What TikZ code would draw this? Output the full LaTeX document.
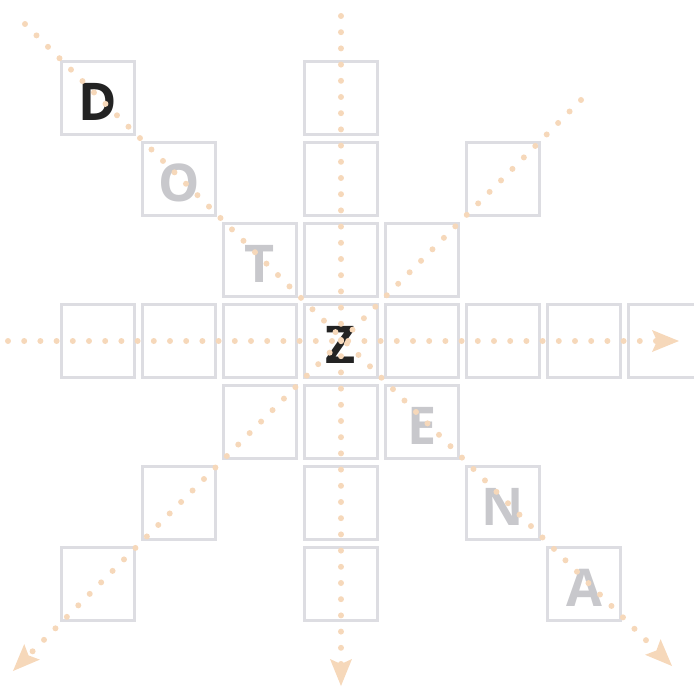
\documentclass[tikz,border=0pt]{standalone}
\usepackage{fontspec}
\setmainfont{Open Sans}
\usepackage{tikz}
\usetikzlibrary{positioning,arrows.meta}
\definecolor{cellgray}{HTML}{DDDDE2}
\definecolor{inkdark}{HTML}{232323}
\definecolor{inkgray}{HTML}{C8C8CC}
\definecolor{peach}{HTML}{F6D8BA}
\tikzset{
    every node/.style={font=\fontsize{52}{60}\selectfont\bfseries},
    cell/.style={rectangle,draw=cellgray,line width=2.5pt,minimum size=73pt,inner sep=0pt,outer sep=0pt,text height=45pt},
    hit/.style={cell,text=inkdark},
    miss/.style={cell,text=inkgray},
    ray/.style={draw=peach,line width=6pt,line cap=round,dash pattern=on 0pt off 16.2pt},
    rayhead/.style={-{Stealth[length=27pt,width=22pt,inset=5pt,line width=0pt,fill=peach]}}
}

\begin{document}
\begin{tikzpicture}[
x=1pt,y=1pt,
node distance=81pt and 81pt,
on grid
]
\useasboundingbox (-341,-345) rectangle (353,341);
% the word along the main diagonal
\node[hit] (z) at (0,0) {Z};
\node[miss, above left=of z] (t) {T};
\node[miss, above left=of t] (o) {O};
\node[hit, above left=of o] (d) {D};
\node[miss, below right=of z] (e) {E};
\node[miss, below right=of e] (n) {N};
\node[miss, below right=of n] (a) {A};
% empty cells
\node[cell, above=of z] (up1) {};
\node[cell, above=of up1] (up2) {};
\node[cell, above=of up2] (up3) {};
\node[cell, below=of z] (dn1) {};
\node[cell, below=of dn1] (dn2) {};
\node[cell, below=of dn2] (dn3) {};
\node[cell, left=of z] (lt1) {};
\node[cell, left=of lt1] (lt2) {};
\node[cell, left=of lt2] (lt3) {};
\node[cell, right=of z] (rt1) {};
\node[cell, right=of rt1] (rt2) {};
\node[cell, right=of rt2] (rt3) {};
\node[cell, right=of rt3] (rt4) {};
\node[cell, above right=of z] (ne1) {};
\node[cell, above right=of ne1] (ne2) {};
\node[cell, below left=of z] (sw1) {};
\node[cell, below left=of sw1] (sw2) {};
\node[cell, below left=of sw2] (sw3) {};
% ends of the search rays
\coordinate (nwend) at (-316,317);
\coordinate (seend) at (331,-325);
\coordinate (neend) at (240,241);
\coordinate (swend) at (-328,-330);
\coordinate (nend) at (0,325);
\coordinate (send) at (0,-345);
\coordinate (wend) at (-333,0);
\coordinate (eend) at (338,0);
\draw[ray,rayhead] (nwend) -- (seend);
\draw[ray,rayhead] (neend) -- (swend);
\draw[ray,rayhead] (nend) -- (send);
\draw[ray,rayhead] (wend) -- (eend);
\end{tikzpicture}
\end{document}
